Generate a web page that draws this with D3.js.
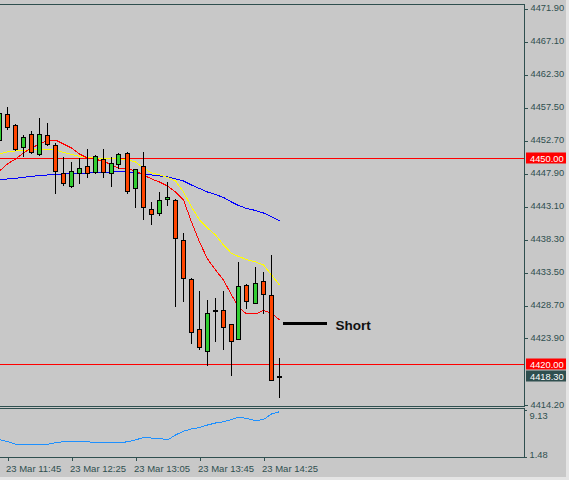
<!DOCTYPE html>
<html>
<head>
<meta charset="utf-8">
<script src="https://cdn.jsdelivr.net/npm/d3@7"></script>
<style>
html,body{margin:0;padding:0;background:#c8c8c8;}
svg{display:block;}
text{font-family:"Liberation Sans",Arial,sans-serif;}
</style>
</head>
<body>
<svg id="chart" width="569" height="480"></svg>
<script>
// ---- data ----
const candleTimes = ["11:40","11:45","11:50","11:55","12:00","12:05","12:10","12:15","12:20","12:25","12:30","12:35","12:40","12:45","12:50","12:55","13:00","13:05","13:10","13:15","13:20","13:25","13:30","13:35","13:40","13:45","13:50","13:55","14:00","14:05","14:10","14:15","14:20","14:25","14:30","14:35"];
const open  = [4452.66,4456.45,4454.85,4451.60,4453.54,4450.58,4453.39,4451.94,4447.82,4446.01,4447.82,4448.81,4448.00,4449.85,4447.82,4449.13,4450.82,4445.63,4448.88,4442.57,4441.99,4444.03,4443.93,4438.10,4432.42,4425.10,4421.98,4427.91,4427.91,4425.83,4423.73,4431.55,4428.97,4432.09,4430.05,4418.11];
const high  = [4457.32,4457.51,4455.00,4453.39,4454.02,4455.87,4455.10,4452.16,4450.19,4449.50,4450.00,4451.35,4450.48,4451.31,4450.23,4450.82,4450.96,4448.51,4450.96,4443.68,4445.05,4446.51,4444.00,4439.12,4432.53,4430.68,4429.37,4429.61,4430.68,4425.87,4434.86,4431.62,4434.21,4433.49,4435.92,4420.88];
const low   = [4452.52,4454.27,4451.21,4450.33,4450.77,4450.55,4451.94,4444.99,4446.04,4445.82,4446.36,4447.32,4447.79,4447.32,4446.01,4448.63,4444.99,4442.95,4441.09,4440.43,4441.74,4443.20,4428.49,4429.26,4423.06,4422.23,4419.90,4423.44,4422.23,4418.44,4423.69,4428.20,4428.89,4427.52,4417.72,4415.28];
const close = [4456.60,4454.51,4451.31,4453.06,4450.96,4453.54,4452.04,4448.08,4446.36,4448.15,4448.54,4447.82,4450.33,4448.05,4449.36,4450.58,4445.28,4448.44,4442.86,4441.89,4443.88,4444.32,4438.32,4432.50,4424.75,4422.57,4427.43,4427.91,4425.48,4423.44,4431.40,4429.26,4431.80,4430.28,4417.72,4418.30];
const fastMA = [4448.15,4449.17,4449.90,4450.77,4451.50,4452.08,4452.59,4452.66,4452.08,4451.50,4450.63,4450.04,4449.83,4449.61,4449.02,4448.59,4448.44,4448.15,4447.57,4446.99,4446.55,4445.97,4445.09,4443.93,4440.72,4437.81,4435.34,4433.73,4432.28,4430.09,4428.35,4427.33,4427.33,4427.84,4427.47,4426.45];
const midMA  = [4450.63,4450.92,4451.06,4451.06,4451.21,4451.35,4451.35,4451.21,4450.84,4450.58,4450.26,4450.12,4450.00,4450.00,4450.00,4449.90,4449.75,4449.46,4448.59,4447.86,4447.57,4447.20,4446.70,4445.09,4442.91,4441.02,4439.85,4438.83,4437.37,4436.17,4435.70,4435.26,4434.90,4434.46,4433.01,4431.55];
const slowMA = [4446.91,4446.99,4447.09,4447.23,4447.35,4447.50,4447.57,4447.64,4447.71,4447.79,4447.82,4447.86,4447.90,4447.96,4448.00,4448.03,4448.00,4447.86,4447.71,4447.57,4447.42,4447.28,4446.99,4446.69,4446.11,4445.60,4445.09,4444.73,4444.29,4443.64,4443.13,4442.69,4442.40,4442.03,4441.50,4440.91];
const indicator = [4.26,3.97,3.51,3.40,3.40,3.43,3.51,3.77,3.94,3.94,3.94,3.94,3.77,3.77,3.77,3.77,3.92,4.22,4.63,4.54,4.49,4.22,5.03,5.66,6.02,6.26,6.67,7.00,7.21,7.57,7.93,7.77,7.38,7.57,8.47,8.85];
const priceTicks = [4471.90,4467.10,4462.30,4457.50,4452.70,4447.90,4443.10,4438.30,4433.50,4428.70,4423.90,4414.20];
const indTicks = [9.13,1.48];
const timeTicks = ["11:45","12:25","13:05","13:45","14:25"];
const levels = [4450.00,4420.00];
const lastPrice = 4418.30;
const annotation = {label:"Short", price:4426.0, start:"14:38", end:"15:05"};

// ---- setup ----
const day = "2022-03-23 ";
const parse = d3.timeParse("%Y-%m-%d %H:%M");
const candles = candleTimes.map((t,i)=>({t:parse(day+t), o:open[i], h:high[i], l:low[i], c:close[i], f:fastMA[i], m:midMA[i], s:slowMA[i], ind:indicator[i]}));

const svg = d3.select("#chart");
const W = 569, H = 480;
const axisX = 524.5;
const mainTop = 4.5, mainBot = 406.5, indTop = 408.5, indBot = 457.5;
const fg = "#2f4f4f";

svg.append("rect").attr("width",W).attr("height",H).attr("fill","#c8c8c8");

const x = d3.scaleTime().domain([parse(day+"11:40"), parse(day+"14:35")]).range([-1.5, 278.5]);
const y = d3.scaleLinear().domain([4414.2, 4471.9]).range([404.1, 7.9]);
const yi = d3.scaleLinear().domain([1.48, 9.13]).range([456.7, 410]);
const px = v => Math.round(v) + 0.5;

const defs = svg.append("defs");
defs.append("clipPath").attr("id","cm").append("rect").attr("x",0).attr("y",5).attr("width",524).attr("height",401);
defs.append("clipPath").attr("id","ci").append("rect").attr("x",0).attr("y",409).attr("width",524).attr("height",48);

const gm = svg.append("g").attr("clip-path","url(#cm)");

// horizontal levels
gm.selectAll(".lvl").data(levels).join("line")
  .attr("x1",0).attr("x2",axisX).attr("y1",d=>px(y(d))).attr("y2",d=>px(y(d)))
  .attr("stroke","#ff0000").attr("stroke-width",1).attr("shape-rendering","crispEdges");

// moving averages
const lineOf = key => d3.line().x(d=>Math.round(x(d.t))+0.5).y(d=>y(d[key]));
[["s","#0000ff"],["m","#ffff00"],["f","#ff0000"]].forEach(([k,col])=>{
  gm.append("path").datum(candles).attr("d",lineOf(k)).attr("fill","none").attr("stroke",col)
    .attr("stroke-width",1).attr("shape-rendering","crispEdges");
});

// candles
const cg = gm.selectAll(".c").data(candles).join("g").attr("shape-rendering","crispEdges");
cg.append("line")
  .attr("x1",d=>Math.round(x(d.t))+0.5).attr("x2",d=>Math.round(x(d.t))+0.5)
  .attr("y1",d=>Math.round(y(d.h))).attr("y2",d=>Math.round(y(d.l))+1)
  .attr("stroke","#000").attr("stroke-width",1);
cg.append("rect")
  .attr("x",d=>Math.round(x(d.t))-1.5)
  .attr("width",4)
  .attr("y",d=>px(y(Math.max(d.o,d.c))))
  .attr("height",d=>Math.max(1, px(y(Math.min(d.o,d.c))) - px(y(Math.max(d.o,d.c)))))
  .attr("fill",d=>d.c>d.o?"#32cd32":(d.c<d.o?"#ff4500":"#000"))
  .attr("stroke","#000").attr("stroke-width",1);

// annotation
const ay = y(annotation.price);
svg.append("line").attr("x1",Math.round(x(parse(day+annotation.start)))).attr("x2",Math.round(x(parse(day+annotation.end))))
  .attr("y1",ay).attr("y2",ay).attr("stroke","#000").attr("stroke-width",3).attr("shape-rendering","crispEdges");
svg.append("text").attr("x",x(parse(day+annotation.end))+9).attr("y",ay+7)
  .attr("font-size","13.5px").attr("font-weight","bold").attr("fill","#111").text(annotation.label);

// indicator
const gi = svg.append("g").attr("clip-path","url(#ci)");
gi.append("path").datum(candles)
  .attr("d",d3.line().x(d=>Math.round(x(d.t))+0.5).y(d=>yi(d.ind)))
  .attr("fill","none").attr("stroke","#1e90ff").attr("stroke-width",1).attr("shape-rendering","crispEdges");

// frames
const fr = svg.append("g").attr("stroke",fg).attr("stroke-width",1).attr("fill","none").attr("shape-rendering","crispEdges");
fr.append("path").attr("d",`M0,${mainTop}H${axisX}V${mainBot}H0`);
fr.append("path").attr("d",`M0,${indTop}H${axisX}V${indBot}H0`);

// price axis
const ya = svg.append("g").attr("transform",`translate(${axisX},0)`)
  .call(d3.axisRight(y).tickValues(priceTicks).tickSize(3).tickPadding(3).tickFormat(d3.format(".2f")));
ya.select(".domain").remove();
ya.selectAll("line").attr("stroke",fg).attr("shape-rendering","crispEdges").attr("transform",d=>`translate(0,${px(y(d))-y(d)})`);
ya.selectAll("text").attr("fill",fg).attr("font-size","9.3px").attr("font-family","Liberation Sans, Arial, sans-serif");

// indicator axis
const yia = svg.append("g").attr("transform",`translate(${axisX},0)`)
  .call(d3.axisRight(yi).tickValues(indTicks).tickSize(2).tickPadding(3).tickFormat(d3.format(".2f")));
yia.select(".domain").remove();
yia.selectAll("line").attr("stroke",fg).attr("shape-rendering","crispEdges");
yia.selectAll("text").attr("fill",fg).attr("font-size","9.3px").attr("font-family","Liberation Sans, Arial, sans-serif")
  .attr("dy",(d,i)=>i===0?"0.95em":"0.05em");

// price labels
const plabels = [{v:levels[0],bg:"#ff0000"},{v:levels[1],bg:"#ff0000"},{v:lastPrice,bg:fg}];
const pl = svg.selectAll(".pl").data(plabels).join("g").attr("transform",d=>`translate(526,${Math.round(y(d.v))})`);
pl.append("rect").attr("x",0).attr("y",-5.5).attr("width",41).attr("height",11).attr("fill",d=>d.bg);
pl.append("text").attr("x",4).attr("y",3.5).attr("fill","#fff").attr("font-size","9.3px").text(d=>d3.format(".2f")(d.v));

// time axis
const tf = d3.timeFormat("%d %b %H:%M");
const xa = svg.append("g").attr("transform",`translate(0,${indBot})`)
  .call(d3.axisBottom(x).tickValues(timeTicks.map(t=>parse(day+t))).tickSize(3).tickPadding(5).tickFormat(tf));
xa.select(".domain").remove();
xa.selectAll("line").attr("stroke",fg).attr("shape-rendering","crispEdges").attr("transform",d=>`translate(${Math.round(x(d))+0.5-x(d)},0)`);
xa.selectAll("text").attr("fill",fg).attr("font-size","9.5px").attr("font-family","Liberation Sans, Arial, sans-serif")
  .attr("text-anchor","start").attr("dx",-1);

// window edges
svg.append("rect").attr("x",566).attr("y",0).attr("width",3).attr("height",H).attr("fill","#e4e4e4");
svg.append("rect").attr("x",0).attr("y",477).attr("width",W).attr("height",3).attr("fill","#e4e4e4");
</script>
</body>
</html>
